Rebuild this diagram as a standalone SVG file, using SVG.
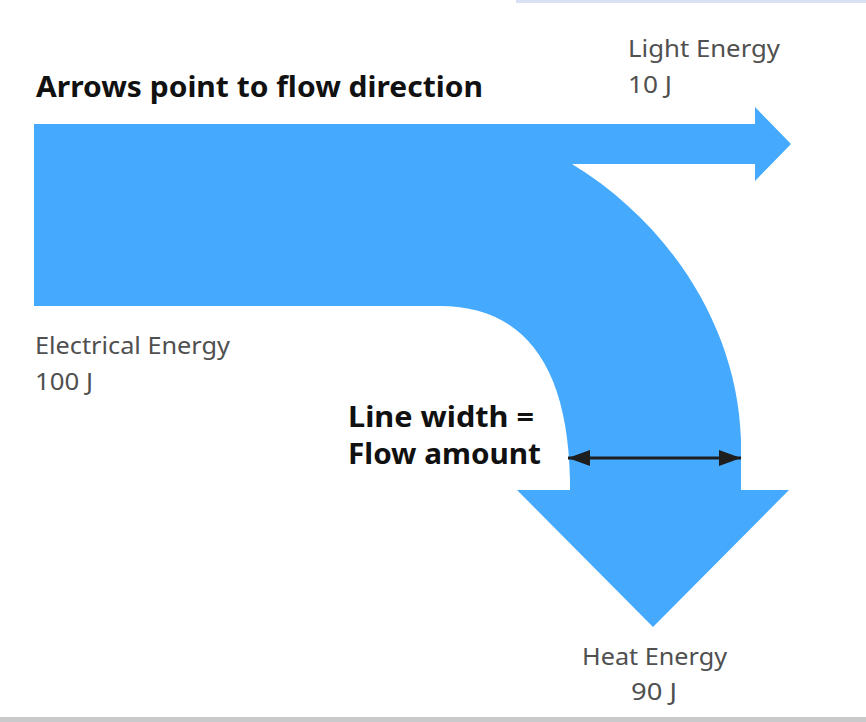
<svg xmlns="http://www.w3.org/2000/svg" width="866" height="722" viewBox="0 0 866 722">
<defs>
<style>
.flow{fill:#45aafe}
.lbl{font-family:"Noto Sans","Open Sans","Liberation Sans",sans-serif;font-size:23px;fill:#505050}
.bold{font-family:"Noto Sans","Open Sans","Liberation Sans",sans-serif;font-size:29px;font-weight:bold;fill:#111}
.dim{stroke:#1e1e1e;stroke-width:3;fill:none}
</style>
<marker id="ah" viewBox="0 0 22 16" refX="22" refY="8" markerWidth="22" markerHeight="16" markerUnits="userSpaceOnUse" orient="auto-start-reverse">
<path d="M0,0 L22,8 L0,16 Z" fill="#1e1e1e"/>
</marker>
</defs>
<rect width="866" height="722" fill="#ffffff"/>
<rect x="516" y="0" width="350" height="3" fill="#d9e2f3"/>
<rect x="0" y="717" width="866" height="5" fill="#c9cacb"/>
<g id="flow">
<path class="flow" d="M34,124 L755,124 L755,107 L791,144 L755,181 L755,164 L572,164 C672,225 738,330 741,440 L741,490 L789,490 L653,627 L517,490 L570,490 L570,480 C568,360 520,306 440,306 L34,306 Z"/>
</g>
<g id="connectors">
<line class="dim" x1="568" y1="458" x2="741" y2="458" marker-start="url(#ah)" marker-end="url(#ah)"/>
</g>
<g id="title">
<text class="bold" x="36" y="97" textLength="447" lengthAdjust="spacingAndGlyphs">Arrows point to flow direction</text>
</g>
<g id="light">
<text class="lbl" x="628" y="57" textLength="152" lengthAdjust="spacingAndGlyphs">Light Energy</text>
<text class="lbl" x="628" y="93" textLength="44" lengthAdjust="spacingAndGlyphs">10 J</text>
</g>
<g id="electrical">
<text class="lbl" x="35" y="354" textLength="195" lengthAdjust="spacingAndGlyphs">Electrical Energy</text>
<text class="lbl" x="35" y="390" textLength="58" lengthAdjust="spacingAndGlyphs">100 J</text>
</g>
<g id="heat">
<text class="lbl" x="582" y="665" textLength="145" lengthAdjust="spacingAndGlyphs">Heat Energy</text>
<text class="lbl" x="631" y="700" textLength="46" lengthAdjust="spacingAndGlyphs">90 J</text>
</g>
<g id="width-note">
<text class="bold" x="348" y="427" textLength="186" lengthAdjust="spacingAndGlyphs">Line width =</text>
<text class="bold" x="348" y="464" textLength="193" lengthAdjust="spacingAndGlyphs">Flow amount</text>
</g>
</svg>
